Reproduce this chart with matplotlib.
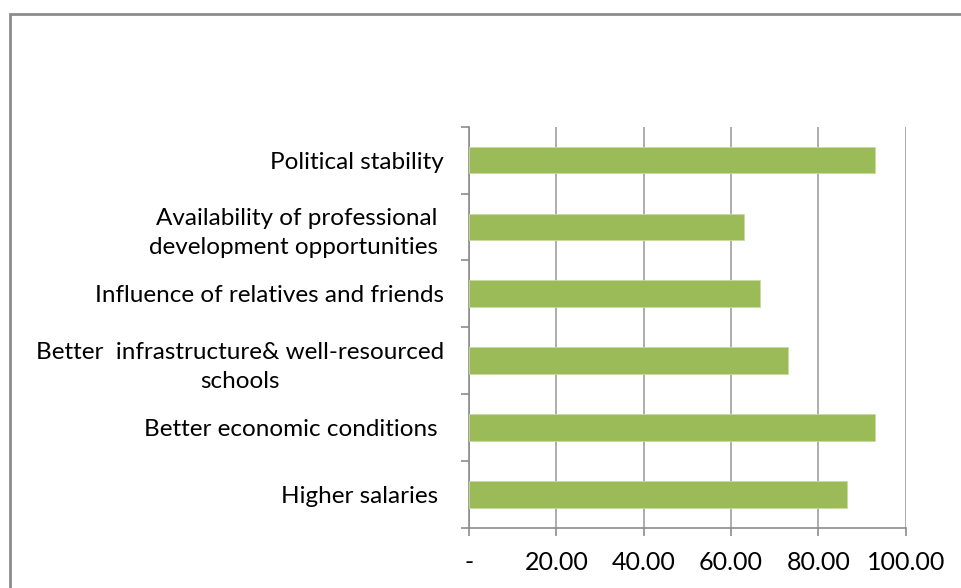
import matplotlib.pyplot as plt
from matplotlib.patches import Rectangle
from matplotlib.ticker import FixedLocator, FuncFormatter

# categories listed bottom to top
categories = [
    "Higher salaries ",
    "Better economic conditions ",
    "Better  infrastructure& well-resourced\nschools",
    "Influence of relatives and friends",
    "Availability of professional\ndevelopment opportunities ",
    "Political stability",
]
values = [86.6, 93.0, 73.0, 66.6, 63.0, 93.0]
xticks = [0, 20, 40, 60, 80, 100]

plt.rcParams['font.family'] = ['Lato', 'DejaVu Sans']

fig = plt.figure(figsize=(9.61, 5.88), dpi=100)
ax = fig.add_axes([0.488, 0.1025, 0.4545, 0.682])

# chart border (cut off at right and bottom like the screenshot)
fig.patches.append(Rectangle((10 / 961, -0.1), 1.2, (588 - 14) / 588 + 0.1,
                             transform=fig.transFigure, fill=False,
                             edgecolor='#8c8c8c', linewidth=2))

pos = list(range(len(categories)))
ax.barh(pos, values, height=0.4, color='#9bbb59', edgecolor='#c5dca0',
        linewidth=0.6, zorder=3)

ax.set_xlim(0, 100)
ax.set_ylim(-0.5, len(categories) - 0.5)
ax.set_xticks(xticks)
ax.xaxis.set_major_formatter(FuncFormatter(lambda v, p: '-' if v == 0 else f'{v:.2f}'))
ax.grid(axis='x', color='#a0a0a0', linewidth=1.2, zorder=0)

ax.set_yticks(pos)
ax.set_yticklabels(categories, multialignment='center', linespacing=1.5)
ax.yaxis.set_minor_locator(FixedLocator([p - 0.5 for p in pos] + [len(pos) - 0.5]))
ax.tick_params(axis='y', which='major', length=0, pad=18, labelsize=17.5, colors='#000000')
ax.tick_params(axis='y', which='minor', length=5.5, width=1.2, color='#8c8c8c')
ax.tick_params(axis='x', length=5.5, width=1.2, color='#8c8c8c', pad=11,
               labelsize=18, labelcolor='#000000')

for s in ['top', 'right']:
    ax.spines[s].set_visible(False)
for s in ['left', 'bottom']:
    ax.spines[s].set_color('#8c8c8c')
    ax.spines[s].set_linewidth(1.2)

fig.savefig('out.png', dpi=100)
